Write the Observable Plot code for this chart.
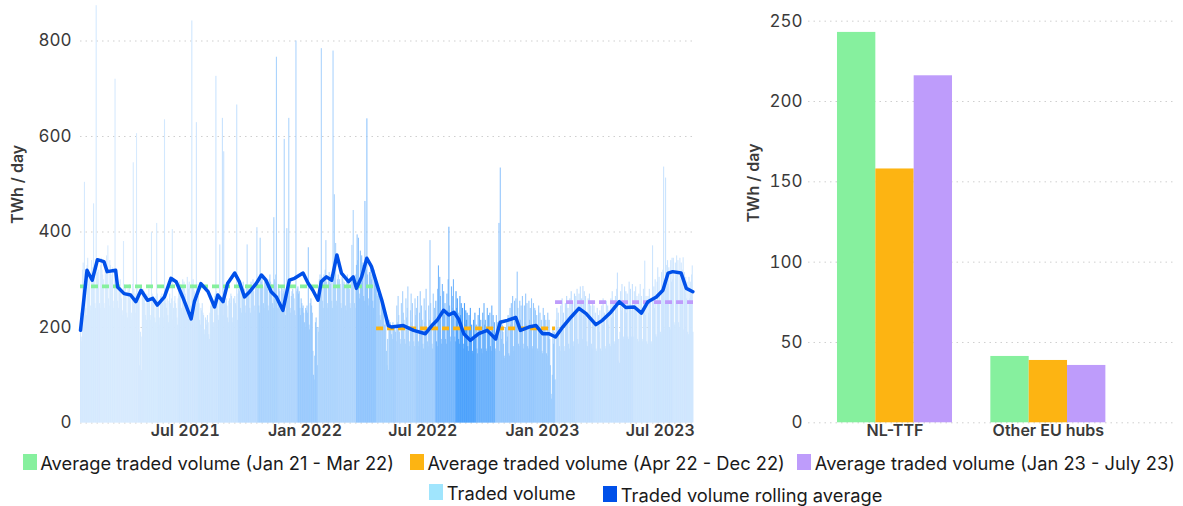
<!DOCTYPE html>
<html><head><meta charset="utf-8">
<script src="https://cdn.jsdelivr.net/npm/d3@7"></script>
<script src="https://cdn.jsdelivr.net/npm/@observablehq/plot@0.6"></script>
<style>
body{margin:0;background:#fff;font-family:Inter,"Noto Sans",sans-serif;}
#wrap{position:relative;width:1183px;height:506px;overflow:hidden;background:#fff;}
#left{position:absolute;left:0;top:0;}
#right{position:absolute;left:720px;top:0;}
.sw{position:absolute;width:14px;height:16px;}
.lt{position:absolute;font-size:18.3px;line-height:16px;color:#1a1a1a;white-space:nowrap;}
</style></head><body><div id="wrap"><div id="left"></div><div id="right"></div></div>
<script>
// ---- daily traded volume (TWh/day), Jan 2021 - Jul 2023, one value per calendar day ----
const vol2021 = [
230,180,170,320,335,300,504,310,240,225,330,345,290,315,300,245,235,340,325,310,459,330,250,240,874,340,315,300,320,250,240,
330,345,320,310,300,250,240,335,320,350,330,371,260,245,340,330,310,300,325,255,240,320,720,315,300,290,255,240,
295,280,300,275,260,235,225,380,290,270,285,265,230,220,280,275,290,260,270,230,215,290,545,280,265,270,230,606,285,270,260,
270,120,190,180,110,265,280,260,275,250,225,215,270,265,255,280,260,225,215,399,270,255,265,250,220,210,265,418,270,255,
250,220,205,265,255,270,250,260,220,635,265,250,240,260,225,210,255,270,250,245,260,405,215,240,255,265,250,240,220,205,260,
280,295,275,290,240,230,300,285,295,280,270,245,235,305,290,280,295,285,245,230,842,290,300,280,275,245,240,629,290,280,
265,250,215,205,240,235,250,230,225,195,185,220,215,205,225,210,185,175,230,245,260,255,250,210,200,265,270,726,275,260,225,
215,270,373,255,260,250,638,225,568,265,255,250,260,245,220,210,255,260,250,270,265,220,210,260,255,265,250,245,666,215,270,
280,275,290,240,230,285,280,295,270,280,245,230,290,373,285,280,270,240,230,295,285,280,300,275,245,235,290,285,409,280,
290,245,230,387,300,295,310,285,250,240,305,295,300,290,280,245,235,300,310,295,285,290,250,240,430,300,295,310,766,255,240,
290,280,275,240,230,285,270,280,275,594,235,225,280,407,270,275,638,285,240,230,265,275,280,270,260,235,225,800,275,280,
285,270,275,240,225,260,250,240,245,230,210,200,240,235,245,230,367,205,195,250,260,245,230,150,100,90,140,210,220,200,120];
const vol2022 = [
200,190,300,310,295,784,305,255,240,310,300,320,382,295,250,240,305,315,300,290,310,255,240,779,305,478,310,376,255,245,300,
310,295,300,290,250,240,305,300,290,295,285,245,235,300,310,295,290,280,250,240,305,372,300,445,290,250,240,310,
330,394,340,387,270,260,360,345,350,330,335,265,255,464,330,320,637,310,260,245,315,305,320,300,310,255,240,320,310,300,295,
280,265,270,275,260,225,215,255,250,245,240,235,205,195,230,150,120,175,110,215,205,210,200,185,175,210,200,205,195,190,
170,245,210,265,225,190,175,165,250,205,275,230,215,175,165,260,220,240,285,200,170,160,235,270,210,250,195,170,160,260,225,
240,205,265,170,160,230,275,205,245,215,165,155,260,210,235,280,200,170,160,245,215,382,250,195,165,155,270,220,240,205,
255,170,160,280,329,230,305,265,175,165,290,240,275,225,250,175,165,270,235,300,410,245,180,170,285,240,265,300,230,180,170,
275,240,260,230,175,165,265,225,250,210,240,165,155,250,205,235,215,230,160,150,225,195,240,180,205,150,145,215,185,230,175,
205,155,145,225,185,240,200,215,155,145,230,190,250,205,215,155,150,240,195,225,185,230,160,150,245,200,225,185,210,155,
150,225,190,210,180,418,150,534,215,175,205,190,165,140,135,200,170,215,180,225,145,140,240,205,250,215,265,160,150,255,225,
260,210,316,240,165,160,255,215,245,200,265,165,155,245,210,270,205,250,160,155,255,215,240,205,260,160,155,250,215,240,
235,195,225,155,150,245,200,230,190,215,150,145,240,195,225,185,215,145,140,230,185,215,175,120,60,50,100,200,165,190,90];
const vol2023 = [
90,215,240,200,230,185,160,150,245,205,260,215,230,160,150,250,210,265,220,240,165,155,260,215,275,230,250,170,160,270,230,
265,230,280,175,165,270,235,285,240,260,175,286,250,275,230,265,220,170,160,260,225,270,215,245,165,155,255,215,
245,205,230,155,150,240,200,225,190,235,155,150,245,205,260,215,230,160,155,255,215,245,205,235,165,160,260,220,275,230,250,
170,165,265,225,280,314,130,175,125,190,275,235,290,240,180,175,285,245,275,230,270,180,175,295,245,280,235,180,290,240,
180,275,240,285,230,265,175,170,270,235,290,225,265,175,170,280,240,339,225,265,170,165,265,230,280,220,255,170,165,371,250,
285,240,300,185,180,295,325,255,305,265,190,185,315,270,320,536,275,195,513,330,285,340,290,325,200,195,340,295,345,300,
345,210,205,335,300,350,315,340,210,200,345,300,335,290,320,346,195,315,270,305,260,295,190,185,305,260,295,270,310,329,190];
// monthly gas price level (EUR/MWh, estimated) that shades the daily bars
const priceLevel = [20,17,17,21,25,29,36,42,63,88,80,114, 84,80,128,100,90,105,170,235,190,125,120,115, 63,53,45,44,32,35,29];
// rolling average: days since 1 Jan 2021 and value
const rollDay = [0,10,18,26,36,41,54,57,67,77,85,93,103,111,118,129,139,147,157,170,175,185,196,206,211,219,226,237,244,252,260,270,278,285,293,301,311,321,329,342,350,357,365,370,378,386,394,401,412,419,424,432,440,447,463,473,478,496,512,530,540,548,558,566,574,581,589,599,612,625,638,645,656,669,676,689,700,710,720,730,741,754,766,777,792,802,815,828,838,851,862,872,885,895,903,910,923,931,941];
const rollValue = [194,320,299,342,338,317,320,285,271,268,254,278,257,261,247,264,303,296,264,218,254,292,275,243,268,254,292,314,296,264,275,292,310,299,275,264,236,299,303,314,292,278,257,296,306,299,352,314,296,306,282,306,345,328,257,204,201,204,194,187,204,215,236,226,232,218,187,173,187,194,176,211,215,221,194,201,204,187,187,180,201,222,240,229,206,215,232,254,242,243,230,254,264,278,314,317,314,282,275];
// period averages
const periodLabel = ["Jan 21 - Mar 22","Apr 22 - Dec 22","Jan 23 - July 23"];
const periodStart = ["2021-01-01","2022-04-01","2023-01-01"];
const periodEnd = ["2022-03-31","2022-12-31","2023-07-31"];
const periodAvg = [286,198,253];
const periodColor = ["#86f09e","#fdb412","#be9cfb"];
// right panel
const hubs = ["NL-TTF","Other EU hubs"];
const hubAvg = [[243,158,216],[41.3,38.8,35.7]];
const leftTicksY = [0,200,400,600,800];
const rightTicksY = [0,50,100,150,200,250];
const xTickLabels = ["2021-07-01","2022-01-01","2022-07-01","2023-01-01","2023-07-01"];
const volColor = "#a0e5fd", rollColor = "#0050e9";

const start = new Date(Date.UTC(2021,0,1));
const endDate = new Date(Date.UTC(2023,7,1));
const vols = vol2021.concat(vol2022, vol2023);
const daily = vols.map((v,i) => {
  const date = d3.utcDay.offset(start, i);
  return {date, next: d3.utcDay.offset(start, i+1), value: v,
    level: priceLevel[(date.getUTCFullYear()-2021)*12 + date.getUTCMonth()]};
});
const roll = rollDay.map((n,i) => ({date: d3.utcDay.offset(start, n), value: rollValue[i]}));
const periods = periodAvg.map((a,i) => ({avg: a, s: new Date(periodStart[i]), e: d3.utcDay.offset(new Date(periodEnd[i]), 1), color: periodColor[i]}));
const grid = {stroke: "#cfcfcf", strokeOpacity: 1, strokeDasharray: "1.5,4"};
const tickTxt = {tickSize: 0, fontSize: 17, fill: "#3a3a3a", label: null};

const left = Plot.plot({
  width: 720, height: 452, marginLeft: 80, marginRight: 27, marginTop: 2.3, marginBottom: 29.5,
  style: {fontFamily: "Inter, sans-serif", background: "transparent", overflow: "visible"},
  x: {type: "utc", domain: [start, endDate]},
  y: {domain: [0, 880]},
  color: {type: "linear", domain: [15, 240], range: ["#d8ebfe", "#4aa0fc"], interpolate: "rgb"},
  marks: [
    Plot.gridY(leftTicksY, grid),
    Plot.rectY(daily, {x1: "date", x2: "next", y: "value", fill: "level", insetRight: -0.45}),
    ...periods.map(p => Plot.ruleY([p], {y: "avg", x1: "s", x2: "e", stroke: p.color, strokeWidth: 3.8, strokeDasharray: "7,4"})),
    Plot.line(roll, {x: "date", y: "value", stroke: rollColor, strokeWidth: 3.5, strokeLinejoin: "round"}),
    Plot.axisY(leftTicksY, {...tickTxt, tickPadding: 9}),
    Plot.axisX(xTickLabels.map(d => new Date(d)), {tickSize: 0, tickPadding: 2, fontSize: 16, fontWeight: 600, fill: "#3a3a3a", dx: -13, tickFormat: d3.utcFormat("%b %Y"), label: null}),
    Plot.text(["TWh / day"], {frameAnchor: "left", dx: -62.5, dy: 11, rotate: -90, fontSize: 16, fontWeight: 600, fill: "#3a3a3a"})
  ]
});
document.getElementById("left").appendChild(left);

const keys = [];
hubs.forEach((h,i) => { if (i > 0) keys.push("gap"); periodLabel.forEach((p,j) => keys.push(h + "|" + j)); });
const right = Plot.plot({
  width: 463, height: 452, marginLeft: 88, marginRight: 10, marginTop: 4.6, marginBottom: 29.7,
  style: {fontFamily: "Inter, sans-serif", background: "transparent", overflow: "visible"},
  x: {type: "band", domain: keys, paddingInner: 0, paddingOuter: 1.26, align: 0.3, round: false},
  y: {domain: [0, 260]},
  marks: [
    Plot.gridY(rightTicksY, grid),
    ...periodColor.map((c,j) => Plot.barY(hubs.map((h,i) => ({key: h + "|" + j, value: hubAvg[i][j]})), {x: "key", y: "value", fill: c, inset: 0})),
    Plot.axisY(rightTicksY, {...tickTxt, tickPadding: 6}),
    Plot.axisX(hubs.map(h => h + "|1"), {tickSize: 0, tickPadding: 2, fontSize: 16, fontWeight: 600, fill: "#3a3a3a", tickFormat: d => d.split("|")[0], label: null}),
    Plot.text(["TWh / day"], {frameAnchor: "left", dx: -55, dy: 8.5, rotate: -90, fontSize: 16, fontWeight: 600, fill: "#3a3a3a"})
  ]
});
document.getElementById("right").appendChild(right);

// legend
const wrap = document.getElementById("wrap");
const legendItems = [
  ...periodLabel.map((p,i) => ({label: "Average traded volume (" + p + ")", color: periodColor[i]})),
  {label: "Traded volume", color: volColor},
  {label: "Traded volume rolling average", color: rollColor}
];
const legendPos = [[22.7,454.3],[410,454.3],[797.3,454.3],[429.3,484],[603.3,486]];
legendItems.forEach((it,i) => {
  const [x,y] = legendPos[i];
  const sw = document.createElement("div"); sw.className = "sw";
  sw.style.left = x + "px"; sw.style.top = y + "px"; sw.style.background = it.color;
  const t = document.createElement("div"); t.className = "lt"; t.textContent = it.label;
  t.style.left = (x + 17.5) + "px"; t.style.top = (y + 0.5) + "px";
  wrap.appendChild(sw); wrap.appendChild(t);
});
</script></body></html>
